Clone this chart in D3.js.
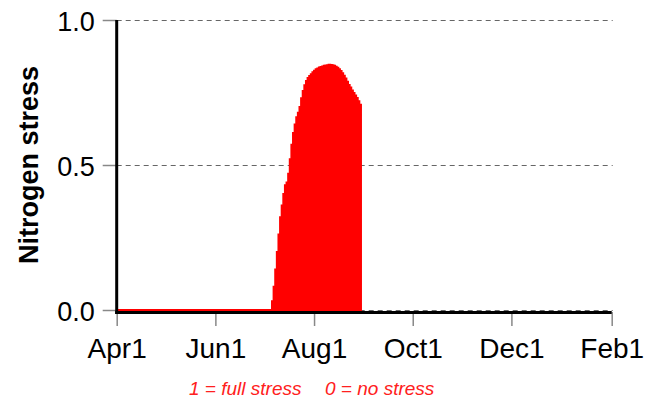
<!DOCTYPE html>
<html>
<head>
<title>Nitrogen stress</title>
<style>
body {
	margin: 0;
	background: #ffffff;
}
svg text {
	font-family: "Liberation Sans", Arial, sans-serif;
}
</style>
<script src="https://d3js.org/d3.v7.min.js"></script>
</head>
<body>
<svg id="chart" width="658" height="401"></svg>
<script>
// season and x axis ticks
var seasonStart = "2001-04-01";
var seasonEnd = "2002-02-01";
var tickDates = ["2001-04-01", "2001-06-01", "2001-08-01", "2001-10-01", "2001-12-01", "2002-02-01"];
var tickLabels = ["Apr1", "Jun1", "Aug1", "Oct1", "Dec1", "Feb1"];
var yTicks = [0, 0.5, 1.0];
var yTickLabels = ["0.0", "0.5", "1.0"];

// daily nitrogen stress, from the first stressed day on
var stressStart = "2001-07-06";
var stressValues = [
	0.03, 0.08, 0.14, 0.20, 0.26, 0.32, 0.36, 0.40, 0.43, 0.44,
	0.47, 0.52, 0.57, 0.61, 0.64, 0.665, 0.68, 0.70, 0.73, 0.755,
	0.775, 0.79, 0.80, 0.807, 0.813, 0.82, 0.825, 0.83, 0.833, 0.836,
	0.838, 0.84, 0.842, 0.843, 0.844, 0.846, 0.845, 0.844, 0.842, 0.839,
	0.835, 0.83, 0.824, 0.816, 0.808, 0.798, 0.787, 0.776, 0.767, 0.757,
	0.748, 0.74, 0.731, 0.72, 0.708
];
var harvestDate = "2001-08-30";

var parse = d3.timeParse("%Y-%m-%d");

// build the series: zero from season start, daily values, back to zero at harvest
var series = [{date: parse(seasonStart), v: 0}];
var d0 = parse(stressStart);
stressValues.forEach(function(v, i) {
	series.push({date: d3.timeDay.offset(d0, i), v: v});
});
series.push({date: parse(harvestDate), v: 0});

var svg = d3.select("#chart");

var x = d3.scaleTime()
	.domain([parse(seasonStart), parse(seasonEnd)])
	.range([116.7, 611.7]);
var y = d3.scaleLinear()
	.domain([0, 1])
	.range([310, 20]);

// dashed grid
svg.append("g").selectAll("line")
	.data(yTicks)
	.join("line")
	.attr("x1", x.range()[0])
	.attr("x2", x.range()[1] + 1)
	.attr("y1", function(d){ return y(d) + 0.5; })
	.attr("y2", function(d){ return y(d) + 0.5; })
	.attr("stroke", "#666")
	.attr("stroke-width", 1)
	.attr("stroke-dasharray", "5,4");

// stress area
var area = d3.area()
	.curve(d3.curveStepAfter)
	.x(function(d){ return x(d.date); })
	.y0(y(0))
	.y1(function(d){ return y(d.v); });

svg.append("path")
	.datum(series)
	.attr("d", area)
	.attr("fill", "#ff0000")
	.attr("stroke", "#ff0000")
	.attr("stroke-width", 2);

// x axis
var xAxis = d3.axisBottom(x)
	.tickValues(tickDates.map(parse))
	.tickFormat(function(d, i){ return tickLabels[i]; })
	.tickSize(14)
	.tickSizeOuter(0);

var gx = svg.append("g")
	.attr("transform", "translate(0,312)")
	.call(xAxis);
gx.select(".domain").remove();
gx.selectAll(".tick line").attr("stroke", "#888").attr("stroke-width", 1.5);
gx.selectAll(".tick text")
	.attr("dy", null)
	.attr("y", 46)
	.attr("fill", "#000")
	.style("font-size", "28px");

// y axis
var yAxis = d3.axisLeft(y)
	.tickValues(yTicks)
	.tickFormat(function(d, i){ return yTickLabels[i]; })
	.tickSize(14)
	.tickPadding(8)
	.tickSizeOuter(0);

var gy = svg.append("g")
	.attr("transform", "translate(116.7,0)")
	.call(yAxis);
gy.select(".domain").remove();
gy.selectAll(".tick line").attr("stroke", "#888").attr("stroke-width", 1.5);
gy.selectAll(".tick text")
	.attr("dy", "0.38em")
	.attr("fill", "#000")
	.style("font-size", "27px");

// heavy black axis lines
svg.append("line")
	.attr("x1", 115.2).attr("x2", 611.7)
	.attr("y1", y(0) + 2.5).attr("y2", y(0) + 2.5)
	.attr("stroke", "#000").attr("stroke-width", 3);
svg.append("line")
	.attr("x1", 116.7).attr("x2", 116.7)
	.attr("y1", y(1)).attr("y2", y(0) + 4)
	.attr("stroke", "#000").attr("stroke-width", 3);

// y label
svg.append("text")
	.attr("transform", "translate(38,165) rotate(-90)")
	.attr("text-anchor", "middle")
	.style("font-size", "27px")
	.style("font-weight", "bold")
	.text("Nitrogen stress");

// note
var note = svg.append("text")
	.attr("y", 395)
	.attr("fill", "#ff2020")
	.style("font-size", "19px")
	.style("font-style", "italic");
note.append("tspan").attr("x", 189).text("1 = full stress");
note.append("tspan").attr("x", 325).text("0 = no stress");
</script>
</body>
</html>
